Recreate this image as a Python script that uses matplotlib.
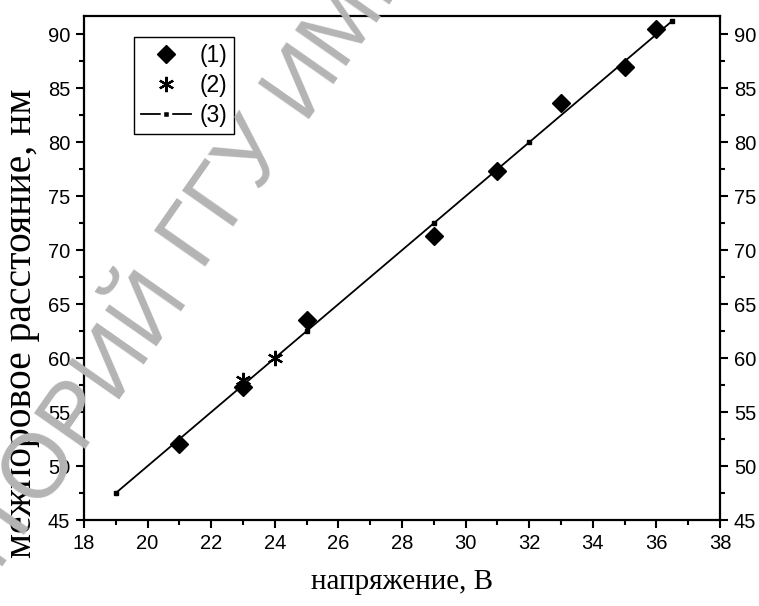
import matplotlib
matplotlib.use("Agg")
import matplotlib.pyplot as plt
from matplotlib.lines import Line2D
from matplotlib.ticker import MultipleLocator

# (1) экспериментальные точки
volt_1 = [21, 23, 25, 29, 31, 33, 35, 36]
dist_1 = [52.0, 57.3, 63.5, 71.3, 77.3, 83.6, 87.0, 90.5]

# (2)
volt_2 = [23, 24]
dist_2 = [58.0, 60.0]

# (3) линейная зависимость
volt_3 = [19, 25, 29, 32, 36.5]
dist_3 = [47.5, 62.5, 72.5, 80.0, 91.25]

plt.rcParams['font.family'] = ['Liberation Sans', 'DejaVu Sans']

W, H = 759, 606
fig = plt.figure(figsize=(W / 100, H / 100), dpi=100)
ax = fig.add_axes([84 / W, 1 - 520 / H, 636 / W, 504 / H])
ax.set_facecolor("none")

# водяной знак (две части, стык на пробеле)
wm = dict(rotation=55, rotation_mode="anchor", va="baseline", fontsize=65,
          color="#b4b4b4", zorder=0)
fig.text(202 / W, 1 - 272 / H, "ГГУ ИМЕНИ Ф. СКОРИНЫ", ha="left", **wm)
fig.text(187.7 / W, 1 - 292.5 / H, "РЕПОЗИТОРИЙ", ha="right", **wm)

ax.plot(volt_3, dist_3, color="black", lw=1.3, marker="s", markersize=3, zorder=3)
ax.plot(volt_1, dist_1, linestyle="none", marker="D", markersize=9,
        color="black", zorder=4)
ax.plot(volt_2, dist_2, linestyle="none", marker=(6, 2, 0), markersize=11,
        markeredgewidth=1.6, color="black", zorder=4)

ax.set_xlim(18, 38)
ax.set_ylim(45, 91.7)
ax.xaxis.set_major_locator(MultipleLocator(2))
ax.xaxis.set_minor_locator(MultipleLocator(1))
ax.yaxis.set_major_locator(MultipleLocator(5))
ax.yaxis.set_minor_locator(MultipleLocator(2.5))

ax.tick_params(which="both", direction="out", width=1.5, labelsize=14.5,
               top=False, right=True, labelright=True)
ax.tick_params(which="major", length=6, pad=4)
ax.tick_params(which="minor", length=3.5)
for s in ax.spines.values():
    s.set_linewidth(1.6)

ax.set_xlabel("напряжение, В", family="Liberation Serif", fontsize=21)
ax.xaxis.set_label_coords(0.5, -0.097)
ax.set_ylabel("межпоровое расстояние, нм", family="Liberation Serif", fontsize=28.5)
ax.yaxis.set_label_coords(-0.069, 0.39)

# легенда
h1 = Line2D([], [], linestyle="none", marker="D", markersize=9, color="black")
h2 = Line2D([], [], linestyle="none", marker=(6, 2, 0), markersize=11,
            markeredgewidth=1.6, color="black")
h3 = Line2D([], [], color="black", lw=1.3, marker="s", markersize=6,
            markerfacecolor="black", markeredgecolor="white", markeredgewidth=2.5)
leg = ax.legend([h1, h2, h3], ["(1)", "(2)", "(3)"], loc="upper left",
                bbox_to_anchor=(50 / 636, 1 - 21 / 504), fancybox=False,
                edgecolor="black", framealpha=1, fontsize=16.5,
                handlelength=2.2, handletextpad=0.35, borderpad=0.3,
                labelspacing=0.3, borderaxespad=0)
leg.get_frame().set_linewidth(1.0)

fig.savefig("out.png", dpi=100)
